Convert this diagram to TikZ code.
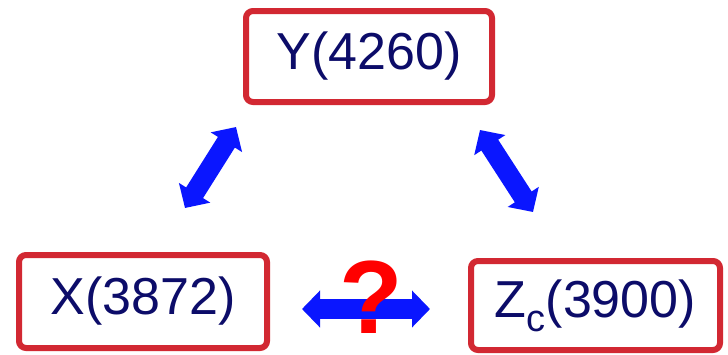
\documentclass[tikz,border=0pt]{standalone}
\usepackage{fontspec}
\setmainfont{Liberation Sans}
\usetikzlibrary{arrows.meta}
\definecolor{boxred}{RGB}{210,40,50}
\definecolor{txtnavy}{RGB}{12,12,105}
\definecolor{arrblue}{RGB}{10,22,255}
\begin{document}
\begin{tikzpicture}[x=1pt,y=-1pt,
  statebox/.style={draw=boxred, line width=6pt, rounded corners=7pt, fill=white,
    text=txtnavy, font=\fontsize{52}{58}\selectfont, inner sep=0pt},
  dblarrow/.style={draw=arrblue, line width=20pt,
    {Triangle[width=36pt,length=18pt]}-{Triangle[width=36pt,length=18pt]}}
]
\useasboundingbox (0,0) rectangle (728,354);
\node[statebox, minimum width=246pt, minimum height=91pt] (Y) at (369,56.5) {Y(4260)};
\node[statebox, minimum width=248pt, minimum height=93pt] (X) at (143,301.5) {X(3872)};
\node[statebox, minimum width=249pt, minimum height=89pt] (Z) at (595.5,305.5)
  {Z\raisebox{-14pt}{\fontsize{38}{38}\selectfont c}(3900)};
\coordinate (l1) at (185,208);
\coordinate (l2) at (236,127);
\coordinate (r1) at (480,130);
\coordinate (r2) at (533,212);
\coordinate (h1) at (302,309);
\coordinate (h2) at (430,309);
\draw[dblarrow] (l1) -- (l2);
\draw[dblarrow] (r1) -- (r2);
\draw[dblarrow] (h1) -- (h2);
\node[text=red, font=\fontsize{104}{110}\selectfont\bfseries, inner sep=0pt, anchor=base] (q) at (371,333) {?};
\end{tikzpicture}
\end{document}
